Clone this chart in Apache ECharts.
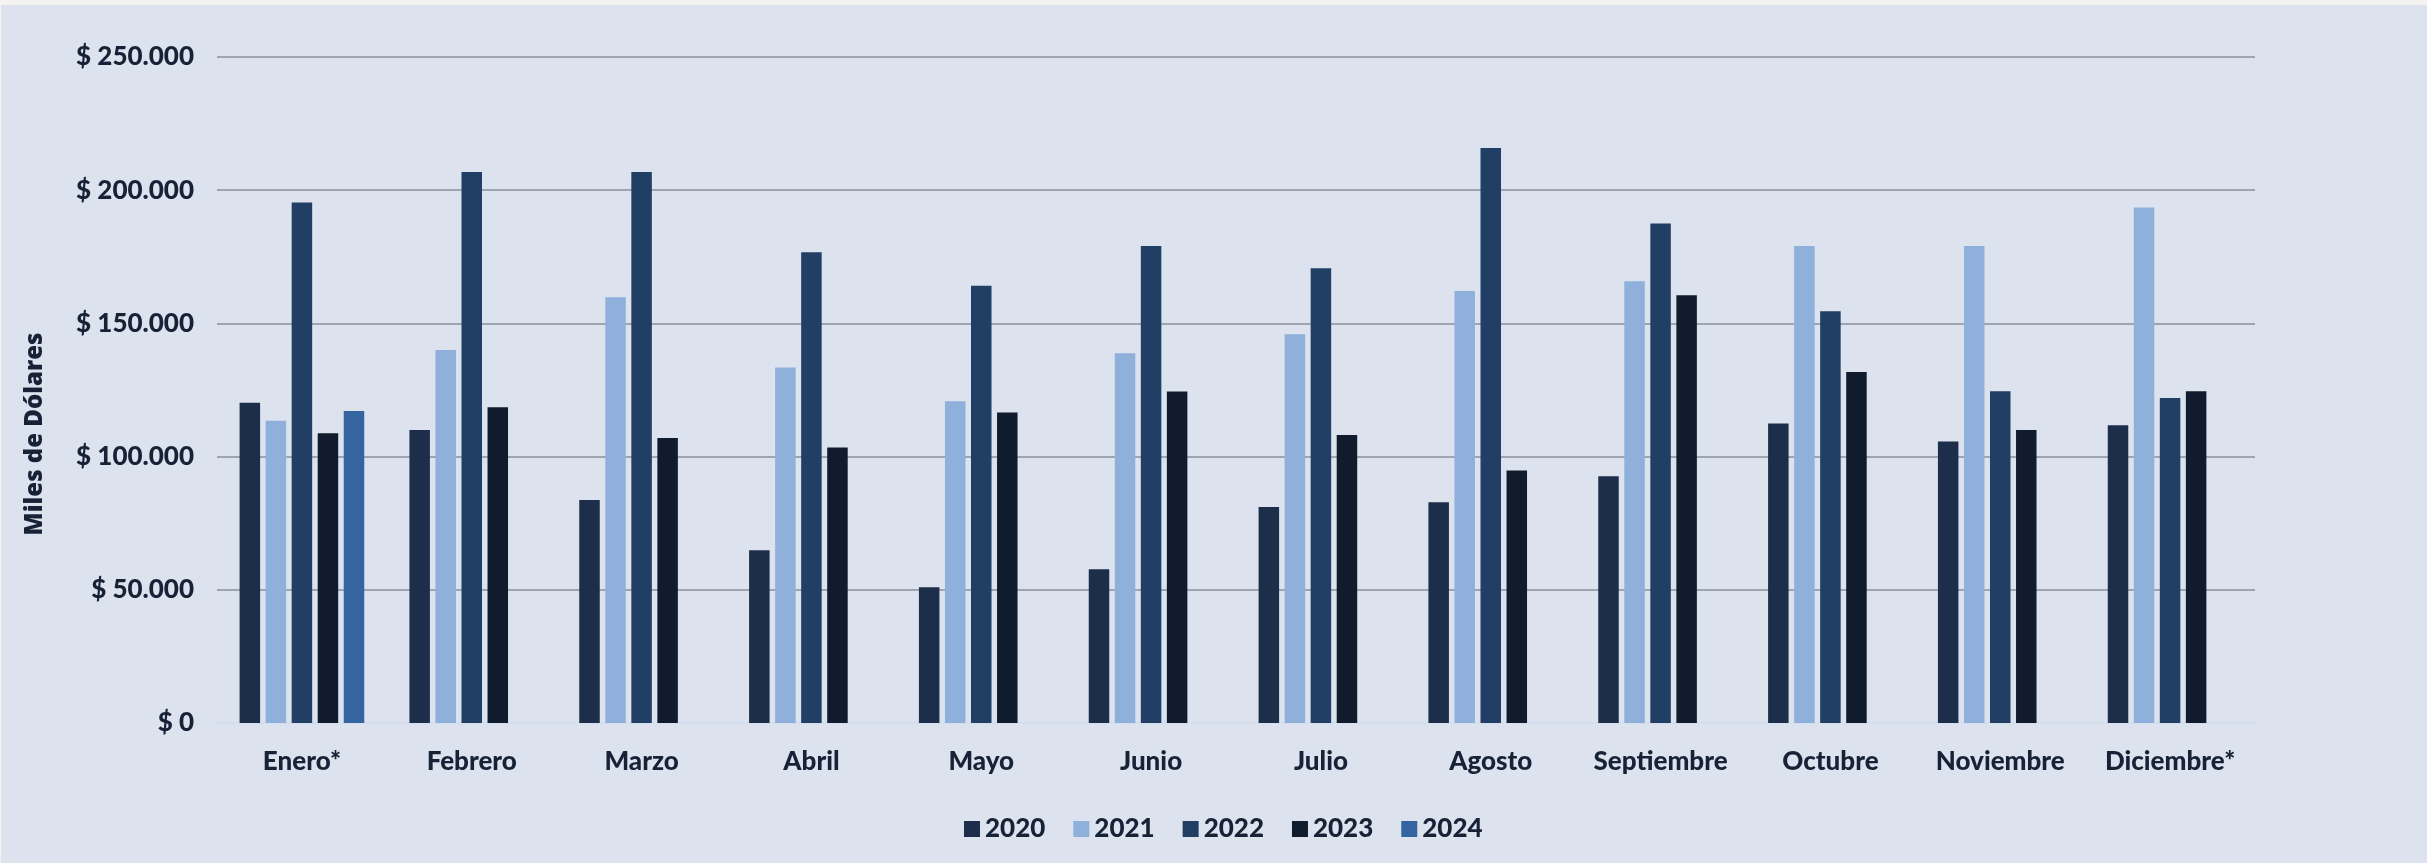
<!DOCTYPE html>
<html>
<head>
<meta charset="utf-8">
<script src="https://cdn.jsdelivr.net/npm/echarts@6/dist/echarts.min.js"></script>
<style>
  html, body { margin: 0; padding: 0; background: #F4F3EF; }
  #chart { position: absolute; left: 1px; top: 5px; width: 2426px; height: 858px; background: #DCE3EE; }
</style>
</head>
<body>
<div id="chart"></div>
<script>
const months = ['Enero*', 'Febrero', 'Marzo', 'Abril', 'Mayo', 'Junio', 'Julio', 'Agosto', 'Septiembre', 'Octubre', 'Noviembre', 'Diciembre*']
const years = ['2020', '2021', '2022', '2023', '2024']

const v2020 = [120200, 110000, 83700, 64800, 51000, 57700, 81100, 82900, 92600, 112400, 105700, 111800]
const v2021 = [113500, 140000, 159800, 133400, 120800, 138800, 145900, 162200, 165800, 179100, 179100, 193500]
const v2022 = [195400, 206800, 206800, 176700, 164100, 179100, 170700, 215800, 187500, 154600, 124500, 122000]
const v2023 = [108800, 118500, 107000, 103400, 116600, 124400, 108100, 94800, 160600, 131800, 110000, 124500]
const v2024 = [117100, null, null, null, null, null, null, null, null, null, null, null]

const yTicks = [0, 50000, 100000, 150000, 200000, 250000]

const COLORS = ['#1C2E4A', '#8EB0DA', '#213E64', '#101C2D', '#3565A1']
const TEXT = '#172236'
const FONT = 'Lato'
const WEIGHT = 900

const fmt = v => '$ ' + String(v).replace(/\B(?=(\d{3})+(?!\d))/g, '.')

const chart = echarts.init(document.getElementById('chart'))

const seriesData = [v2020, v2021, v2022, v2023, v2024]

chart.setOption({
  backgroundColor: '#DCE3EE',
  animation: false,
  textStyle: { fontFamily: FONT },
  grid: { left: 216, right: 172, top: 52, bottom: 140, containLabel: false },
  legend: {
    top: 806,
    left: 958,
    icon: 'rect',
    itemWidth: 16,
    itemHeight: 16,
    itemGap: 28,
    data: years,
    textStyle: { color: TEXT, fontSize: 26, fontWeight: WEIGHT, fontFamily: FONT }
  },
  graphic: [{
    type: 'text',
    left: 22,
    top: 'middle',
    rotation: Math.PI / 2,
    style: {
      text: 'Miles de Dólares',
      fill: TEXT,
      font: '800 24px "Open Sans"'
    }
  }],
  xAxis: {
    type: 'category',
    data: months,
    axisLine: { lineStyle: { color: '#D3DEEE', width: 2 } },
    axisTick: { show: false },
    axisLabel: { color: TEXT, fontSize: 26, fontWeight: WEIGHT, margin: 26, interval: 0, fontFamily: FONT }
  },
  yAxis: {
    type: 'value',
    min: yTicks[0],
    max: yTicks[yTicks.length - 1],
    interval: yTicks[1] - yTicks[0],
    axisLine: { show: false },
    axisTick: { show: false },
    splitLine: { lineStyle: { color: '#9EA4B0', width: 2 } },
    axisLabel: { color: TEXT, fontSize: 26, fontWeight: WEIGHT, margin: 23, fontFamily: FONT, formatter: fmt }
  },
  series: years.map((y, i) => ({
    name: y,
    type: 'bar',
    data: seriesData[i],
    barGap: '27%',
    barCategoryGap: '26.6%',
    itemStyle: { color: COLORS[i] }
  }))
})
</script>
</body>
</html>
